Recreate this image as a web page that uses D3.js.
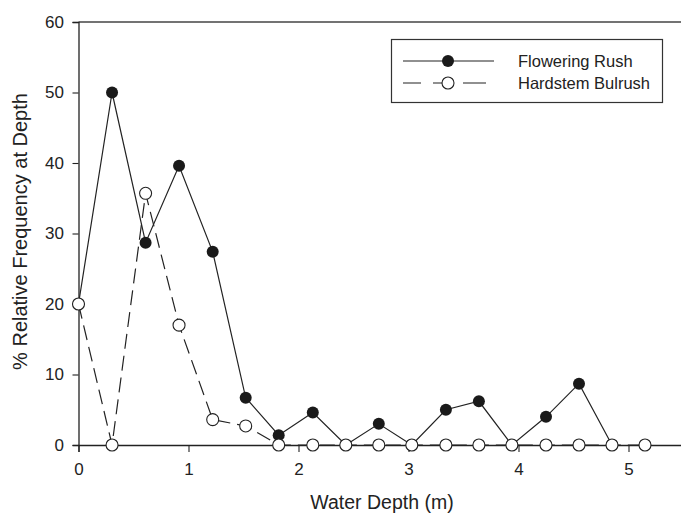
<!DOCTYPE html>
<html>
<head>
<meta charset="utf-8">
<script src="https://cdn.jsdelivr.net/npm/d3@7"></script>
<style>
  body { margin: 0; background: #fff; }
  text { font-family: "Liberation Sans", Arial, sans-serif; fill: #222; }
</style>
</head>
<body>
<script>
// depth of each sample (m)
var depths = [0, 0.305, 0.61, 0.914, 1.22, 1.52, 1.82, 2.13, 2.43, 2.73, 3.03, 3.34, 3.64, 3.94, 4.25, 4.55, 4.85, 5.15];
// % relative frequency at depth
var floweringRush = [20, 50, 28.7, 39.6, 27.4, 6.7, 1.4, 4.6, 0, 3.0, 0, 5.0, 6.2, 0, 4.0, 8.7, 0];
var hardstemBulrush = [20, 0, 35.7, 17.0, 3.6, 2.7, 0, 0, 0, 0, 0, 0, 0, 0, 0, 0, 0, 0];
var xTicks = [0, 1, 2, 3, 4, 5];
var yTicks = [0, 10, 20, 30, 40, 50, 60];
var seriesNames = ["Flowering Rush", "Hardstem Bulrush"];

var W = 681, H = 513;
var ink = "#222";

var svg = d3.select("body").append("svg")
    .attr("width", W)
    .attr("height", H);

var x = d3.scaleLinear().domain([0, 5.5]).range([78.5, 683.5]);
var y = d3.scaleLinear().domain([0, 60]).range([445, 22]);

// top frame line
svg.append("line")
    .attr("x1", x(0)).attr("x2", x(5.5))
    .attr("y1", y(60)).attr("y2", y(60))
    .attr("stroke", "#444").attr("stroke-width", 1.3);

// axes
var xAxis = svg.append("g")
    .attr("transform", "translate(0," + y(0) + ")")
    .call(d3.axisBottom(x).tickValues(xTicks).tickFormat(d3.format("d")).tickSize(7).tickPadding(11));

var yAxis = svg.append("g")
    .attr("transform", "translate(" + x(0) + ",0)")
    .call(d3.axisLeft(y).tickValues(yTicks).tickSize(6).tickPadding(8.5));

[xAxis, yAxis].forEach(function (a) {
    a.select(".domain").attr("stroke", ink).attr("stroke-width", 1.3);
    a.selectAll(".tick line").attr("stroke", ink).attr("stroke-width", 1.1);
    a.selectAll(".tick text")
        .attr("fill", "#333")
        .style("font-size", "17px")
        .style("font-family", "'Liberation Sans', Arial, sans-serif");
});

// axis titles
svg.append("text")
    .attr("x", 382).attr("y", 509)
    .attr("text-anchor", "middle")
    .style("font-size", "19.5px")
    .attr("fill", "#333")
    .text("Water Depth (m)");

svg.append("text")
    .attr("transform", "translate(26.5," + 231.5 + ") rotate(-90)")
    .attr("text-anchor", "middle")
    .style("font-size", "20px")
    .attr("fill", "#333")
    .text("% Relative Frequency at Depth");

var line = d3.line()
    .x(function (d) { return x(d[0]); })
    .y(function (d) { return y(d[1]); });

var fr = floweringRush.map(function (v, i) { return [depths[i], v]; });
var hb = hardstemBulrush.map(function (v, i) { return [depths[i], v]; });

svg.append("path")
    .attr("d", line(hb))
    .attr("fill", "none")
    .attr("stroke", ink)
    .attr("stroke-width", 1.2)
    .attr("stroke-dasharray", "15,7");

svg.append("path")
    .attr("d", line(fr))
    .attr("fill", "none")
    .attr("stroke", ink)
    .attr("stroke-width", 1.2);

svg.selectAll(".fr")
    .data(fr)
    .enter()
    .append("circle")
    .attr("class", "fr")
    .attr("cx", function (d) { return x(d[0]); })
    .attr("cy", function (d) { return y(d[1]); })
    .attr("r", 6)
    .attr("fill", "#1a1a1a");

svg.selectAll(".hb")
    .data(hb)
    .enter()
    .append("circle")
    .attr("class", "hb")
    .attr("cx", function (d) { return x(d[0]); })
    .attr("cy", function (d) { return y(d[1]); })
    .attr("r", 6)
    .attr("fill", "#fff")
    .attr("stroke", ink)
    .attr("stroke-width", 1.1);

// legend
var lg = svg.append("g");
lg.append("rect")
    .attr("x", 391.5).attr("y", 39.5)
    .attr("width", 271).attr("height", 63)
    .attr("fill", "#fff")
    .attr("stroke", "#333").attr("stroke-width", 1.2);

lg.append("line")
    .attr("x1", 403).attr("x2", 494).attr("y1", 61).attr("y2", 61)
    .attr("stroke", ink).attr("stroke-width", 1.2);
lg.append("circle")
    .attr("cx", 448).attr("cy", 61).attr("r", 6)
    .attr("fill", "#1a1a1a");

lg.append("line")
    .attr("x1", 403).attr("x2", 486).attr("y1", 83).attr("y2", 83)
    .attr("stroke", ink).attr("stroke-width", 1.2)
    .attr("stroke-dasharray", "18,12,20,10,23");
lg.append("circle")
    .attr("cx", 448).attr("cy", 83).attr("r", 6)
    .attr("fill", "#fff")
    .attr("stroke", ink).attr("stroke-width", 1.1);

lg.selectAll(".lgtext")
    .data(seriesNames)
    .enter()
    .append("text")
    .attr("class", "lgtext")
    .attr("x", 518)
    .attr("y", function (d, i) { return 67 + i * 22; })
    .style("font-size", "16.5px")
    .attr("fill", "#333")
    .text(function (d) { return d; });
</script>
</body>
</html>
